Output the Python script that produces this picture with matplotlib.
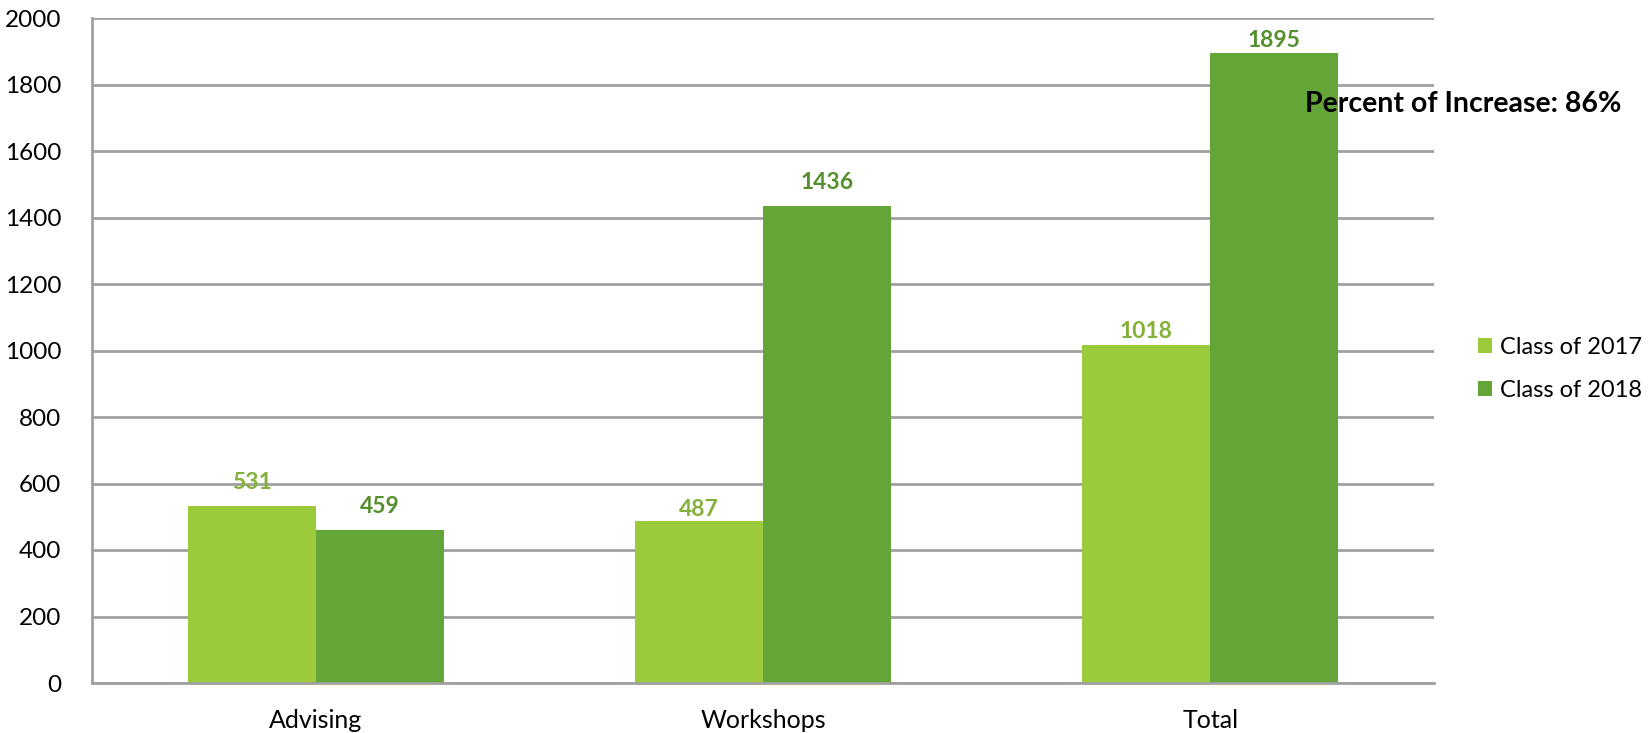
import matplotlib.pyplot as plt
import numpy as np

categories = ["Advising", "Workshops", "Total"]
class_2017 = [531, 487, 1018]
class_2018 = [459, 1436, 1895]
series_names = ["Class of 2017", "Class of 2018"]
note = "Percent of Increase: 86%"

# label offsets above the bar top (points), as placed in the original
off_2017 = [17, 8, 9.5]
off_2018 = [17, 16.5, 9]

light = "#9BCB3B"
dark = "#63A537"
light_txt = "#84B13A"
dark_txt = "#55902F"
grid_col = "#A0A0A0"

plt.rcParams['font.family'] = ['Lato', 'DejaVu Sans']

fig = plt.figure(figsize=(16.49, 7.33), dpi=100)
ax = fig.add_axes([92 / 1649, 1 - 683 / 733, (1434 - 92) / 1649, (683 - 18) / 733])

x = np.arange(len(categories))
w = 0.286
b1 = ax.bar(x - w / 2, class_2017, w, color=light, label=series_names[0], zorder=3)
b2 = ax.bar(x + w / 2, class_2018, w, color=dark, label=series_names[1], zorder=3)

for rect, v, o in zip(b1, class_2017, off_2017):
    ax.annotate(str(v), (rect.get_x() + rect.get_width() / 2, v), xytext=(0, o),
                textcoords="offset points", ha="center", va="center",
                fontsize=16.5, fontweight="bold", color=light_txt, zorder=5)
for rect, v, o in zip(b2, class_2018, off_2018):
    ax.annotate(str(v), (rect.get_x() + rect.get_width() / 2, v), xytext=(0, o),
                textcoords="offset points", ha="center", va="center",
                fontsize=16.5, fontweight="bold", color=dark_txt, zorder=5)

ax.set_ylim(0, 2000)
ax.set_xlim(-0.5, 2.5)
ax.set_yticks(range(0, 2001, 200))
ax.set_xticks(x)
ax.set_xticklabels(categories)
ax.tick_params(axis="both", length=0)
ax.tick_params(axis="y", pad=22, labelsize=17.5)
ax.tick_params(axis="x", pad=19, labelsize=18)
ax.grid(axis="y", color=grid_col, linewidth=2, zorder=0)
for s in ["top", "right"]:
    ax.spines[s].set_visible(False)
for s in ["left", "bottom"]:
    ax.spines[s].set_color(grid_col)
    ax.spines[s].set_linewidth(2)
    ax.spines[s].set_zorder(4)

fig.text(1305 / 1649, 1 - 104 / 733, note, ha="left", va="center",
         fontsize=20.5, fontweight="bold", color="black")

fig.legend(handles=[b1, b2], labels=series_names, loc="center left",
           bbox_to_anchor=(1478 / 1649, 1 - 369 / 733), frameon=False,
           fontsize=17, handlelength=0.6, handleheight=0.6,
           handletextpad=0.35, labelspacing=0.95, borderpad=0, borderaxespad=0)

fig.savefig("out.png", dpi=100)
